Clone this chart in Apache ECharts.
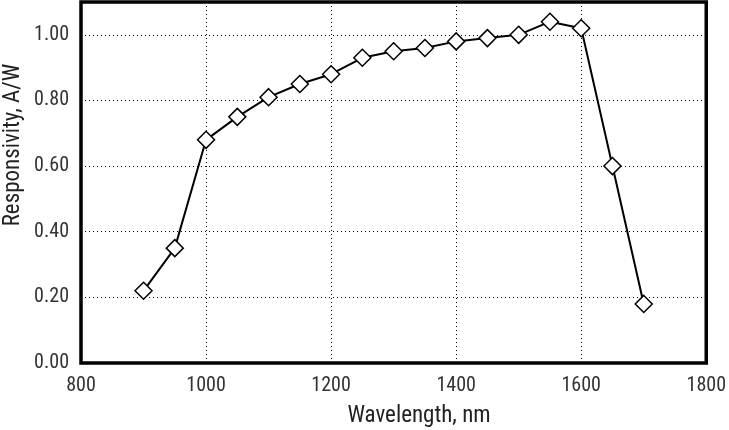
<!DOCTYPE html>
<html><head><meta charset="utf-8">
<script src="https://cdn.jsdelivr.net/npm/echarts@6/dist/echarts.min.js"></script>
<style>html,body{margin:0;padding:0;background:#fff}#c{width:729px;height:430px}</style>
</head><body><div id="c"></div>
<script>
const wavelengths = [900, 950, 1000, 1050, 1100, 1150, 1200, 1250, 1300, 1350, 1400, 1450, 1500, 1550, 1600, 1650, 1700];
const responsivity = [0.22, 0.35, 0.68, 0.75, 0.81, 0.85, 0.88, 0.93, 0.95, 0.96, 0.98, 0.99, 1.00, 1.04, 1.02, 0.60, 0.18];
const xTitle = 'Wavelength, nm';
const yTitle = 'Responsivity, A/W';
const FONT = "'Liberation Sans Narrow', 'Roboto Condensed', 'DejaVu Sans Condensed', sans-serif";

const chart = echarts.init(document.getElementById('c'), null, {renderer: 'canvas'});
chart.setOption({
  animation: false,
  backgroundColor: '#fff',
  grid: {left: 81, right: 16, top: 2, bottom: 67, show: true, borderColor: '#000', borderWidth: 3.5},
  xAxis: {
    type: 'value', min: 800, max: 1800, interval: 200,
    axisLine: {show: false}, axisTick: {show: false},
    axisLabel: {color: '#333', fontSize: 20, fontFamily: FONT, margin: 13, formatter: v => String(v)},
    splitLine: {show: true, lineStyle: {color: '#000', type: [1, 3], width: 1}}
  },
  yAxis: {
    type: 'value', min: 0, max: 1.1, interval: 0.2,
    axisLine: {show: false}, axisTick: {show: false},
    axisLabel: {color: '#333', fontSize: 20, fontFamily: FONT, margin: 12,
      formatter: v => v > 1.05 ? '' : v.toFixed(2)},
    splitLine: {show: true, lineStyle: {color: '#000', type: [1, 3], width: 1}}
  },
  graphic: [
    {type: 'text', position: [419, 416], style: {text: xTitle, fontSize: 23, fontFamily: FONT, fill: '#222', align: 'center', verticalAlign: 'middle'}, silent: true},
    {type: 'text', rotation: Math.PI / 2, position: [13, 145], style: {text: yTitle, fontSize: 23, fontFamily: FONT, fill: '#222', align: 'center', verticalAlign: 'middle'}, silent: true}
  ],
  series: [{
    type: 'line',
    data: wavelengths.map((w, i) => [w, responsivity[i]]),
    symbol: 'diamond', symbolSize: 17,
    lineStyle: {color: '#000', width: 2},
    itemStyle: {color: '#fff', borderColor: '#000', borderWidth: 1.5},
    z: 5
  }]
});
</script></body></html>
